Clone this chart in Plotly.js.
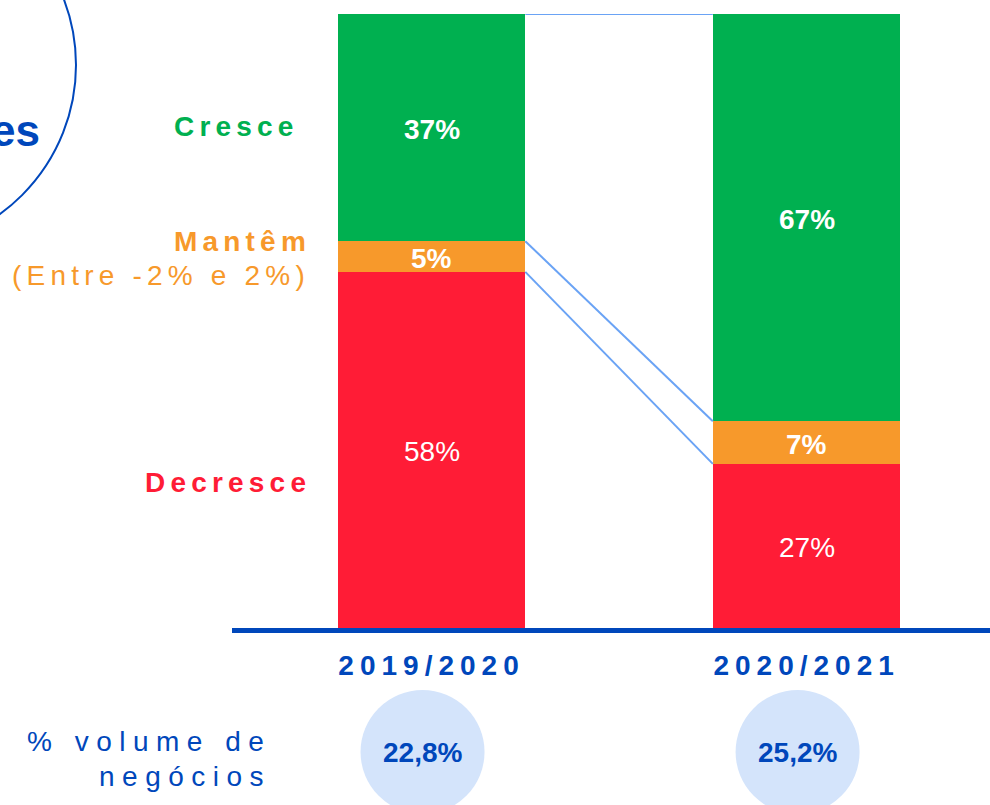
<!DOCTYPE html>
<html>
<head>
<meta charset="utf-8">
<script src="https://cdn.plot.ly/plotly-3.0.1.min.js"></script>
<style>
html, body { margin: 0; padding: 0; background: #ffffff; }
#chart { width: 990px; height: 805px; }
</style>
</head>
<body>
<div id="chart"></div>
<script>
// ---- data ----
const categories = ['2019/2020', '2020/2021'];
const decresce = [58, 27];
const mantem = [5, 7];
const cresce = [37, 67];
const volume = [22.8, 25.2];
const seriesNames = ['Decresce', 'Mantêm', 'Cresce'];
const sideLabelSub = '(Entre -2% e 2%)';
const volumeLabel = ['% volume de', 'negócios'];
const bubbleWord = 'es';

// ---- style ----
const FONT = 'Liberation Sans, Arial, sans-serif';
const GREEN = '#00B050', ORANGE = '#F7992B', RED = '#FF1C36';
const BLUE = '#0047BB', LINK = '#6AA3F5', BUBBLE = '#D4E4FB';
const L = 232, T = 14, B = 177, W = 990, H = 805;
const plotH = H - T - B, plotW = W - L;
const px = x => (x - L) / plotW;      // pixel -> paper x
const py = y => (H - B - y) / plotH;  // pixel -> paper y
const sp = (t, ls) => `<span style="letter-spacing:${ls}px">${t}</span>`;

const series = [decresce, mantem, cresce];
const colors = [RED, ORANGE, GREEN];
const weights = ['normal', 'bold', 'bold'];

const traces = series.map((vals, i) => ({
  type: 'bar',
  name: seriesNames[i],
  x: categories,
  y: vals,
  width: 0.5,
  marker: { color: colors[i], line: { width: 0 } },
  hoverinfo: 'skip',
  showlegend: false
}));

// normalised cumulative tops per category
const totals = categories.map((c, j) => series.reduce((s, v) => s + v[j], 0));
const cum = series.map((vals, i) => categories.map((c, j) =>
  series.slice(0, i + 1).reduce((s, v) => s + v[j], 0) / totals[j] * 100));

const annotations = [];
// segment labels
series.forEach((vals, i) => {
  vals.forEach((v, j) => {
    const top = cum[i][j];
    const bottom = i === 0 ? 0 : cum[i - 1][j];
    annotations.push({
      xref: 'x', yref: 'y', x: j, y: (top + bottom) / 2,
      yshift: -2,
      text: v + '%', showarrow: false,
      font: { family: FONT, size: 28, color: '#ffffff', weight: weights[i] },
      xanchor: 'center', yanchor: 'middle'
    });
  });
});

// side labels
annotations.push({ xref: 'paper', yref: 'paper', x: px(301), y: py(127),
  text: sp(seriesNames[2], 5.2), showarrow: false, xanchor: 'right', yanchor: 'middle',
  font: { family: FONT, size: 28, color: GREEN, weight: 'bold' } });
annotations.push({ xref: 'paper', yref: 'paper', x: px(313), y: py(241),
  text: sp(seriesNames[1], 5.2), showarrow: false, xanchor: 'right', yanchor: 'middle',
  font: { family: FONT, size: 28, color: ORANGE, weight: 'bold' } });
annotations.push({ xref: 'paper', yref: 'paper', x: px(312), y: py(275),
  text: sp(sideLabelSub, 5.2), showarrow: false, xanchor: 'right', yanchor: 'middle',
  font: { family: FONT, size: 28, color: ORANGE, weight: 'normal' } });
annotations.push({ xref: 'paper', yref: 'paper', x: px(313), y: py(482),
  text: sp(seriesNames[0], 5.2), showarrow: false, xanchor: 'right', yanchor: 'middle',
  font: { family: FONT, size: 28, color: RED, weight: 'bold' } });

// bubble word top-left (partly cut by the edge, as in the reference)
annotations.push({ xref: 'paper', yref: 'paper', x: px(42), y: py(130),
  text: bubbleWord, showarrow: false, xanchor: 'right', yanchor: 'middle',
  font: { family: FONT, size: 44, color: BLUE, weight: 'bold' } });

// volume label
annotations.push({ xref: 'paper', yref: 'paper', x: px(273), y: py(741),
  text: sp(volumeLabel[0], 7.5), showarrow: false, xanchor: 'right', yanchor: 'middle',
  font: { family: FONT, size: 28, color: BLUE } });
annotations.push({ xref: 'paper', yref: 'paper', x: px(273), y: py(777),
  text: sp(volumeLabel[1], 7.5), showarrow: false, xanchor: 'right', yanchor: 'middle',
  font: { family: FONT, size: 28, color: BLUE } });

const shapes = [];
// volume bubbles + values
const bubbleOffset = -0.024;
volume.forEach((v, j) => {
  shapes.push({ type: 'circle', xref: 'x', yref: 'paper',
    xsizemode: 'pixel', ysizemode: 'pixel',
    xanchor: j + bubbleOffset, yanchor: py(752),
    x0: -62, x1: 62, y0: -62, y1: 62,
    fillcolor: BUBBLE, line: { width: 0 }, layer: 'below' });
  annotations.push({ xref: 'x', yref: 'paper', x: j + bubbleOffset, y: py(752),
    text: v.toFixed(1).replace('.', ',') + '%', showarrow: false,
    xanchor: 'center', yanchor: 'middle',
    font: { family: FONT, size: 28, color: BLUE, weight: 'bold' } });
});

// connector lines between the stacks
const edge = 0.25;
const linkLevels = [
  [100, 100],
  [cum[1][0], cum[1][1]],
  [cum[0][0], cum[0][1]]
];
linkLevels.forEach(([a, b]) => {
  shapes.push({ type: 'line', xref: 'x', yref: 'y',
    x0: 0 + edge, x1: 1 - edge, y0: a, y1: b,
    line: { color: LINK, width: 2 } });
});

// outline circle top-left
shapes.push({ type: 'circle', xref: 'paper', yref: 'paper',
  xsizemode: 'pixel', ysizemode: 'pixel',
  xanchor: px(-108), yanchor: py(65),
  x0: -184, x1: 184, y0: -184, y1: 184,
  line: { color: BLUE, width: 2 }, fillcolor: 'rgba(0,0,0,0)' });

const layout = {
  width: W, height: H,
  margin: { l: L, r: 0, t: T, b: B, pad: 0 },
  paper_bgcolor: '#ffffff', plot_bgcolor: '#ffffff',
  barmode: 'stack', barnorm: 'percent',
  showlegend: false,
  font: { family: FONT },
  xaxis: {
    type: 'category',
    range: [-0.532, 1.489],
    showgrid: false, zeroline: false,
    showline: true, linecolor: BLUE, linewidth: 5,
    ticks: '',
    tickvals: categories,
    ticktext: categories.map(c => sp(c, 6)),
    tickfont: { family: FONT, size: 28, color: BLUE, weight: 'bold' },
    ticklabelstandoff: 8,
    fixedrange: true
  },
  yaxis: {
    range: [0, 100], visible: false, showgrid: false, zeroline: false, fixedrange: true
  },
  annotations: annotations,
  shapes: shapes
};

Plotly.newPlot('chart', traces, layout, { displayModeBar: false, staticPlot: true });
</script>
</body>
</html>
